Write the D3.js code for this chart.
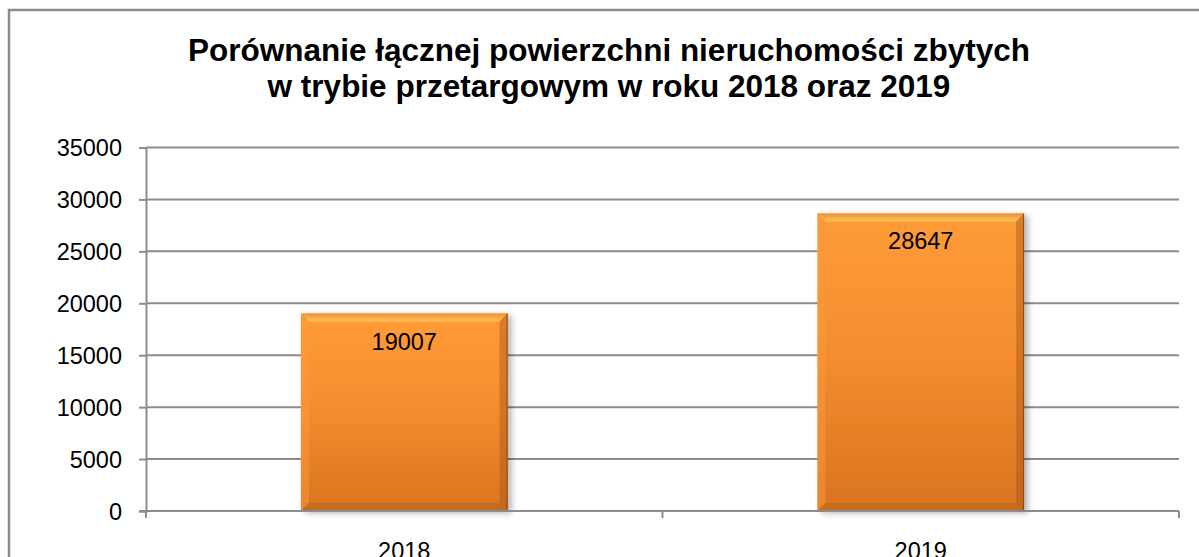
<!DOCTYPE html>
<html>
<head>
<meta charset="utf-8">
<script src="https://cdn.jsdelivr.net/npm/d3@7"></script>
<style>
  body { margin: 0; background: #fff; }
  text { font-family: "Liberation Sans", Arial, sans-serif; }
</style>
</head>
<body>
<svg id="chart" width="1199" height="557"></svg>
<script>
// data
var titleLines = ["Porównanie łącznej powierzchni nieruchomości zbytych", "w trybie przetargowym w roku 2018 oraz 2019"];
var years = ["2018", "2019"];
var areas = [19007, 28647];
var yTicks = [0, 5000, 10000, 15000, 20000, 25000, 30000, 35000];

var svg = d3.select("#chart");
var plotLeft = 146, plotRight = 1179, plotTop = 147.5, plotBottom = 511;

// frame
svg.append("rect")
  .attr("x", 9).attr("y", 10)
  .attr("width", 1220).attr("height", 600)
  .attr("fill", "none").attr("stroke", "#8c8c8c").attr("stroke-width", 2.5);

// title
svg.append("text")
  .attr("x", 609).attr("y", 61)
  .attr("text-anchor", "middle")
  .style("font-weight", "bold").style("font-size", "31.5px")
  .selectAll("tspan").data(titleLines).enter().append("tspan")
  .attr("x", 609).attr("dy", function(d, i){ return i ? 36 : 0; })
  .text(function(d){ return d; });

var x = d3.scaleBand().domain(years).range([plotLeft, plotRight]).paddingInner(0.6).paddingOuter(0.3);
var y = d3.scaleLinear().domain([0, 35000]).range([plotBottom, plotTop]);

// gridlines
svg.append("g").selectAll("line").data(yTicks.slice(1)).enter().append("line")
  .attr("x1", plotLeft).attr("x2", plotRight)
  .attr("y1", function(d){ return y(d); }).attr("y2", function(d){ return y(d); })
  .attr("stroke", "#8c8c8c").attr("stroke-width", 2);

// y axis
var yAxis = svg.append("g").attr("transform", "translate(" + plotLeft + ",0)")
  .call(d3.axisLeft(y).tickValues(yTicks).tickSize(7).tickPadding(17).tickFormat(d3.format("d")));
yAxis.select(".domain").attr("stroke", "#8c8c8c").attr("stroke-width", 2);
yAxis.selectAll(".tick line").attr("stroke", "#8c8c8c").attr("stroke-width", 2);
yAxis.selectAll(".tick text").style("font-size", "23.5px").attr("fill", "#000").attr("dy", "0.35em");

// gradients
var defs = svg.append("defs");
var g = defs.append("linearGradient").attr("id", "barFill").attr("x1", 0).attr("y1", 0).attr("x2", 0).attr("y2", 1);
g.append("stop").attr("offset", "0%").attr("stop-color", "#ff9c36");
g.append("stop").attr("offset", "50%").attr("stop-color", "#f48c2e");
g.append("stop").attr("offset", "100%").attr("stop-color", "#d9731f");
var tg = defs.append("linearGradient").attr("id", "topBevel").attr("x1", 0).attr("y1", 0).attr("x2", 0).attr("y2", 1);
tg.append("stop").attr("offset", "0%").attr("stop-color", "#f0902e");
tg.append("stop").attr("offset", "100%").attr("stop-color", "#ffc766");
var sh = defs.append("filter").attr("id", "shadow").attr("x", "-10%").attr("y", "-10%").attr("width", "130%").attr("height", "130%");
sh.append("feGaussianBlur").attr("in", "SourceAlpha").attr("stdDeviation", 3);
sh.append("feOffset").attr("dx", 4).attr("dy", 2).attr("result", "blur");
sh.append("feComponentTransfer").append("feFuncA").attr("type", "linear").attr("slope", 0.3);
var m = sh.append("feMerge");
m.append("feMergeNode");
m.append("feMergeNode").attr("in", "SourceGraphic");

// bars
var bw = x.bandwidth(), bev = 8;
var bars = svg.append("g").selectAll("g").data(areas).enter().append("g")
  .attr("transform", function(d, i){ return "translate(" + x(years[i]) + "," + y(d) + ")"; });

bars.append("rect")
  .attr("width", bw)
  .attr("height", function(d){ return plotBottom - y(d); })
  .attr("fill", "url(#barFill)")
  .attr("filter", "url(#shadow)");

// bevel edges
bars.append("polygon").attr("fill", "url(#topBevel)").attr("opacity", 0.9)
  .attr("points", "0,0 " + bw + ",0 " + (bw - bev) + "," + bev + " " + bev + "," + bev);
bars.append("polygon").attr("fill", "#f79a3f").attr("opacity", 0.5)
  .attr("points", function(d){ var h = plotBottom - y(d); return "0,0 " + bev + "," + bev + " " + bev + "," + (h - bev) + " 0," + h; });
bars.append("polygon").attr("fill", "#a8561a").attr("opacity", 0.45)
  .attr("points", function(d){ var h = plotBottom - y(d); return bw + ",0 " + bw + "," + h + " " + (bw - bev) + "," + (h - bev) + " " + (bw - bev) + "," + bev; });
bars.append("polygon").attr("fill", "#b0601c").attr("opacity", 0.45)
  .attr("points", function(d){ var h = plotBottom - y(d); return "0," + h + " " + bw + "," + h + " " + (bw - bev) + "," + (h - bev) + " " + bev + "," + (h - bev); });
bars.append("line")
  .attr("x1", bw - 0.5).attr("x2", bw - 0.5).attr("y1", 0)
  .attr("y2", function(d){ return plotBottom - y(d); })
  .attr("stroke", "#8a4210").attr("stroke-width", 1.2).attr("opacity", 0.8);

// value labels
bars.append("text")
  .attr("x", bw / 2).attr("y", 36)
  .attr("text-anchor", "middle")
  .style("font-size", "23.5px")
  .text(function(d){ return d; });

// x axis
var xAxis = svg.append("g").attr("transform", "translate(0," + plotBottom + ")")
  .call(d3.axisBottom(x).tickSize(0).tickPadding(0));
xAxis.select(".domain").remove();
xAxis.selectAll(".tick text").remove();
xAxis.append("line").attr("x1", plotLeft - 7).attr("x2", plotRight).attr("stroke", "#8c8c8c").attr("stroke-width", 2);
[plotLeft, (plotLeft + plotRight) / 2, plotRight].forEach(function(p){
  xAxis.append("line").attr("x1", p).attr("x2", p).attr("y1", 0).attr("y2", 7)
    .attr("stroke", "#8c8c8c").attr("stroke-width", 2);
});
xAxis.selectAll(".tick").append("text")
  .attr("y", 48).attr("text-anchor", "middle")
  .style("font-size", "23.5px").attr("fill", "#000")
  .text(function(d){ return d; });
</script>
</body>
</html>
